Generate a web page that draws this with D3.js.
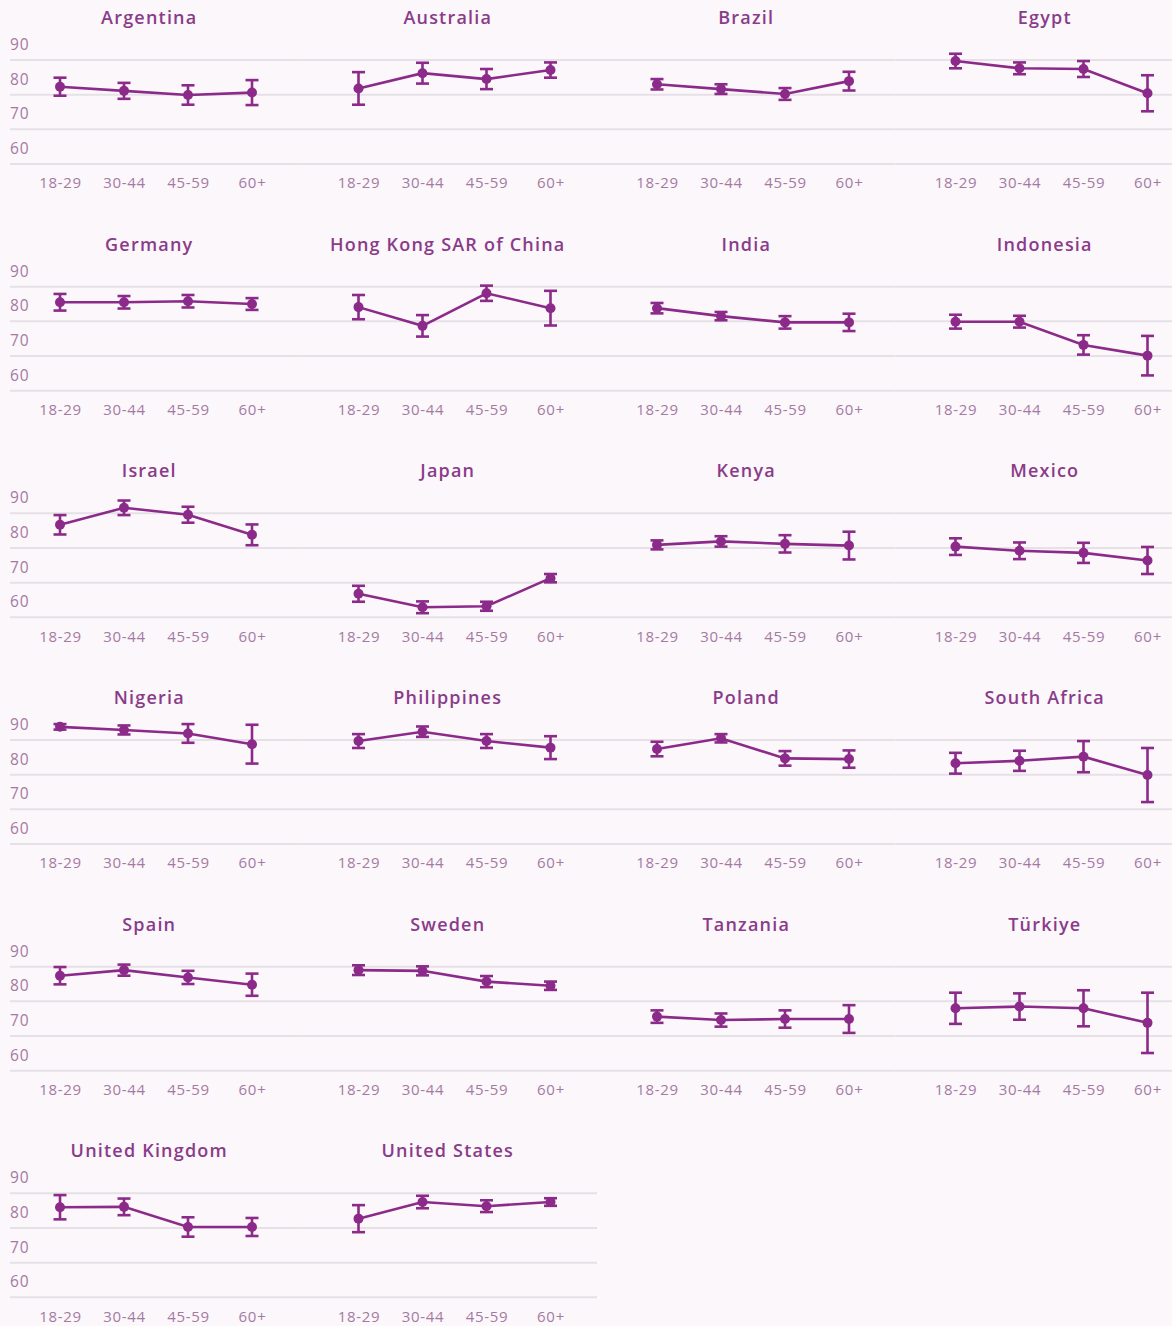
<!DOCTYPE html>
<html>
<head>
<meta charset="utf-8">
<script src="https://cdn.jsdelivr.net/npm/d3@7"></script>
<style>
  html, body { margin: 0; padding: 0; background: #fbf7fb; }
  svg { display: block; }
</style>
</head>
<body>
<svg id="chart"></svg>
<script>
const WIDTH = 1172;
const HEIGHT = 1326;

const ageGroups = ["18-29", "30-44", "45-59", "60+"];
const yTicks = [60, 70, 80, 90];

const countries = [
  "Argentina", "Australia", "Brazil", "Egypt",
  "Germany", "Hong Kong SAR of China", "India", "Indonesia",
  "Israel", "Japan", "Kenya", "Mexico",
  "Nigeria", "Philippines", "Poland", "South Africa",
  "Spain", "Sweden", "Tanzania", "Türkiye",
  "United Kingdom", "United States"
];

// share per age group, same order as countries
const values = [
  [82.3, 81.1, 79.9, 80.6],
  [81.8, 86.2, 84.5, 87.1],
  [83.0, 81.6, 80.2, 83.9],
  [89.7, 87.6, 87.4, 80.4],
  [85.5, 85.5, 85.8, 85.0],
  [84.1, 78.7, 88.1, 83.8],
  [83.8, 81.5, 79.7, 79.7],
  [79.9, 79.9, 73.2, 70.1],
  [86.7, 91.6, 89.6, 83.8],
  [66.8, 62.9, 63.2, 71.3],
  [80.9, 81.9, 81.2, 80.7],
  [80.4, 79.2, 78.6, 76.4],
  [93.8, 92.9, 91.9, 88.8],
  [89.7, 92.4, 89.7, 87.8],
  [87.4, 90.5, 84.7, 84.5],
  [83.3, 84.0, 85.2, 79.9],
  [87.4, 89.0, 86.9, 84.8],
  [89.0, 88.8, 85.7, 84.5],
  [75.6, 74.6, 74.9, 74.9],
  [78.0, 78.5, 78.0, 73.8],
  [86.0, 86.1, 80.3, 80.3],
  [82.7, 87.5, 86.3, 87.5]
];

// +/- margin of error per age group
const margins = [
  [2.6, 2.3, 2.8, 3.6],
  [4.7, 3.0, 2.9, 2.2],
  [1.5, 1.4, 1.7, 2.7],
  [2.1, 1.7, 2.3, 5.2],
  [2.4, 1.8, 1.8, 1.7],
  [3.5, 3.1, 2.2, 5.0],
  [1.5, 1.2, 1.8, 2.5],
  [2.0, 1.7, 2.8, 5.7],
  [2.8, 2.1, 2.3, 3.0],
  [2.3, 1.7, 1.3, 1.2],
  [1.3, 1.5, 2.5, 4.0],
  [2.4, 2.4, 2.9, 3.9],
  [0.8, 1.3, 2.7, 5.6],
  [2.0, 1.5, 2.0, 3.3],
  [2.1, 1.2, 2.1, 2.5],
  [3.0, 2.9, 4.5, 7.8],
  [2.5, 1.6, 1.9, 3.2],
  [1.4, 1.3, 1.6, 1.2],
  [1.8, 1.9, 2.5, 4.0],
  [4.5, 3.8, 5.2, 8.7],
  [3.5, 2.4, 2.8, 2.6],
  [3.9, 1.8, 1.7, 1.1]
];

const COLS = 4;
const PANEL_W = 298.5;
const PANEL_H = 226.67;
const LINE_COLOR = "#8c2a8a";
const GRID_COLOR = "#e6e1e6";
const TEXT_COLOR = "#a47aa2";
const TITLE_COLOR = "#8a3b89";
const FONT = "'Open Sans', 'Noto Sans', sans-serif";

const x = d3.scalePoint().domain(ageGroups).range([60, 252]);
const y = d3.scaleLinear().domain([60, 90]).range([164, 60]);

const svg = d3.select("#chart").attr("width", WIDTH).attr("height", HEIGHT);

const panelData = countries.map((name, i) => ({
  name,
  col: i % COLS,
  row: Math.floor(i / COLS),
  points: ageGroups.map((age, j) => ({ age, value: values[i][j], moe: margins[i][j] })),
}));

const panels = svg
  .selectAll("g.panel")
  .data(panelData)
  .join("g")
  .attr("class", "panel")
  .attr("transform", (d) => `translate(${d.col * PANEL_W},${d.row * PANEL_H})`);

// gridlines, joined up across neighbouring panels
panels.each(function drawGrid(d) {
  d3.select(this)
    .selectAll("line.grid")
    .data(yTicks)
    .join("line")
    .attr("class", "grid")
    .attr("x1", d.col === 0 ? 10 : 0)
    .attr("x2", PANEL_W)
    .attr("y1", (t) => y(t))
    .attr("y2", (t) => y(t))
    .attr("stroke", GRID_COLOR)
    .attr("stroke-width", 2);
});

// y labels only in the first column
panels
  .filter((d) => d.col === 0)
  .selectAll("text.y-label")
  .data(yTicks)
  .join("text")
  .attr("class", "y-label")
  .attr("x", 10)
  .attr("y", (t) => y(t) - 10)
  .attr("font-family", FONT)
  .attr("font-size", 15.5)
  .attr("letter-spacing", 1)
  .attr("fill", TEXT_COLOR)
  .text((t) => t);

// titles
panels
  .append("text")
  .attr("class", "title")
  .attr("x", PANEL_W / 2)
  .attr("y", 24)
  .attr("text-anchor", "middle")
  .attr("font-family", FONT)
  .attr("font-size", 18)
  .attr("font-weight", 600)
  .attr("letter-spacing", 1.2)
  .attr("fill", TITLE_COLOR)
  .text((d) => d.name);

// x axis labels
panels.each(function drawAxis() {
  const axis = d3.select(this)
    .append("g")
    .attr("transform", "translate(0,174)")
    .call(d3.axisBottom(x).tickSize(0).tickPadding(0));
  axis.select(".domain").remove();
  axis.selectAll("text")
    .attr("dy", "0.95em")
    .attr("font-family", FONT)
    .attr("font-size", 15)
    .attr("letter-spacing", 0.7)
    .attr("fill", TEXT_COLOR);
});

// connecting line
const line = d3.line().x((p) => x(p.age)).y((p) => y(p.value));

panels
  .append("path")
  .attr("d", (d) => line(d.points))
  .attr("fill", "none")
  .attr("stroke", LINE_COLOR)
  .attr("stroke-width", 2.6);

// error bars
const errorBars = panels
  .selectAll("g.err")
  .data((d) => d.points)
  .join("g")
  .attr("class", "err")
  .attr("stroke", LINE_COLOR)
  .attr("stroke-width", 2.6);

errorBars
  .append("line")
  .attr("x1", (p) => x(p.age))
  .attr("x2", (p) => x(p.age))
  .attr("y1", (p) => y(p.value + p.moe))
  .attr("y2", (p) => y(p.value - p.moe));

errorBars
  .append("line")
  .attr("x1", (p) => x(p.age) - 6.5)
  .attr("x2", (p) => x(p.age) + 6.5)
  .attr("y1", (p) => y(p.value + p.moe))
  .attr("y2", (p) => y(p.value + p.moe));

errorBars
  .append("line")
  .attr("x1", (p) => x(p.age) - 6.5)
  .attr("x2", (p) => x(p.age) + 6.5)
  .attr("y1", (p) => y(p.value - p.moe))
  .attr("y2", (p) => y(p.value - p.moe));

// points
panels
  .selectAll("circle.dot")
  .data((d) => d.points)
  .join("circle")
  .attr("class", "dot")
  .attr("cx", (p) => x(p.age))
  .attr("cy", (p) => y(p.value))
  .attr("r", 5)
  .attr("fill", LINE_COLOR);
</script>
</body>
</html>
